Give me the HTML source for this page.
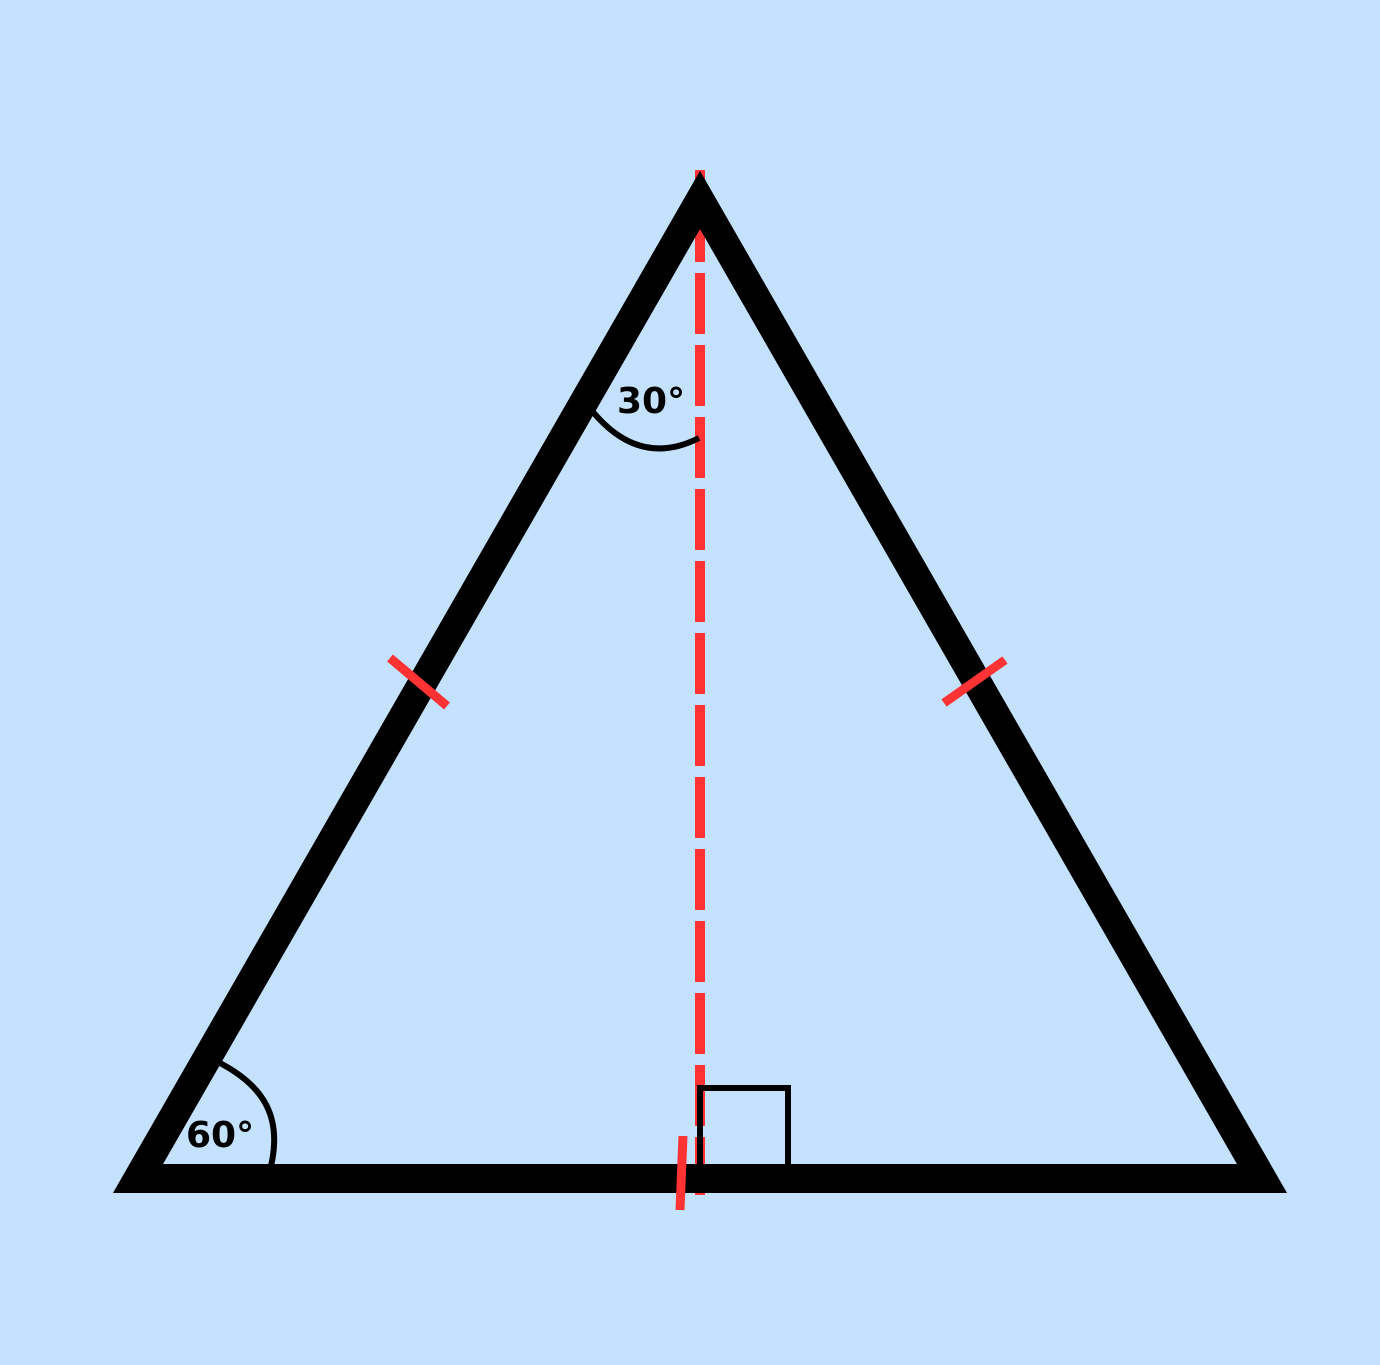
<!DOCTYPE html>
<html><head><meta charset="utf-8"><style>
html,body{margin:0;padding:0;background:#c4e2fe;}
svg{display:block;}
text{font-family:"DejaVu Sans","Liberation Sans",sans-serif;font-weight:bold;fill:#000;}
</style></head><body>
<svg id="chart" width="1380" height="1365" viewBox="0 0 1380 1365">
<rect x="0" y="0" width="1380" height="1365" fill="#c4e2fe"/>
<g id="g"></g>
</svg>
<script>
const vertexX = [700, 138, 1262];
const vertexY = [200, 1178.5, 1178.5];
const angleLabels = ["30°", "60°"];
const g = document.getElementById('g');
const NS = 'http://www.w3.org/2000/svg';
function mk(tag, attrs){const e=document.createElementNS(NS,tag);for(const k in attrs)e.setAttribute(k,attrs[k]);g.appendChild(e);return e;}
// altitude dashed line
let alt = mk('line',{x1:vertexX[0],y1:170,x2:vertexX[0],y2:1195,stroke:'#ff3333','stroke-width':10,'stroke-dasharray':'61 11','stroke-dashoffset':41});


// triangle
let tri = mk('polygon',{points:vertexX.map((x,i)=>x+','+vertexY[i]).join(' '),fill:'none',stroke:'#000','stroke-width':29,'stroke-linejoin':'miter','stroke-miterlimit':10});


// right angle square
let sq = mk('path',{d:'M700 1165 V1088 H788 V1165',fill:'none',stroke:'#000','stroke-width':6});


// angle arcs
let a1 = mk('path',{d:'M593 412 Q640 468 699 438',fill:'none',stroke:'#000','stroke-width':6});


let a2 = mk('path',{d:'M218 1062 C265 1086 282 1118 271 1166',fill:'none',stroke:'#000','stroke-width':6});


// tick marks
let t1 = mk('line',{x1:390,y1:658,x2:447,y2:706,stroke:'#ff3333','stroke-width':9});


let t2 = mk('line',{x1:944,y1:703,x2:1005,y2:660,stroke:'#ff3333','stroke-width':9});


let t3 = mk('line',{x1:683,y1:1136,x2:680,y2:1210,stroke:'#ff3333','stroke-width':9});


// labels
let l1 = mk('text',{x:617,y:413,'font-size':36});
l1.textContent = angleLabels[0];


let l2 = mk('text',{x:186,y:1147,'font-size':36});
l2.textContent = angleLabels[1];


</script>
</body></html>
